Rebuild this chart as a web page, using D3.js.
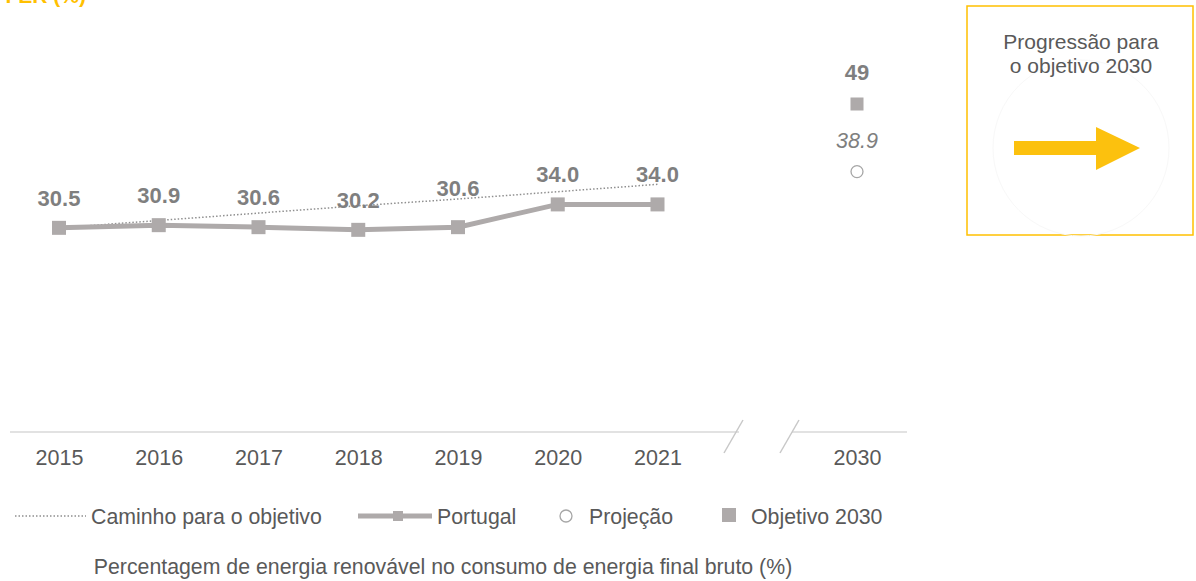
<!DOCTYPE html>
<html>
<head>
<meta charset="utf-8">
<script src="https://cdn.jsdelivr.net/npm/d3@7"></script>
<style>
  body { margin: 0; background: #fff; }
  svg { display: block; font-family: "Liberation Sans", Arial, sans-serif; }
</style>
</head>
<body>
<svg width="1196" height="581"></svg>
<script>
// data
let years = ["2015", "2016", "2017", "2018", "2019", "2020", "2021"];
let portugal = [30.5, 30.9, 30.6, 30.2, 30.6, 34.0, 34.0];
let caminho = [30.5, 31.6, 32.7, 33.8, 34.8, 35.9, 37.0];
let targetYear = "2030";
let objetivo = 49;
let projecao = 38.9;
let slots = years.concat(["gap", targetYear]);

let svg = d3.select("svg");
let grey = "#aeaaaa";
let labelGrey = "#7f7f7f";
let textGrey = "#595959";
let yellow = "#ffc000";

let x = d3.scalePoint().domain(slots).range([59, 857]);
let y = d3.scaleLinear().domain([0, 49]).range([432, 104]);

// clipped title at the very top
svg.append("text")
    .attr("x", 86).attr("y", 3)
    .attr("text-anchor", "end")
    .attr("fill", yellow)
    .attr("font-weight", "bold")
    .attr("font-size", 21)
    .text("FER (%)");

// axis with break
let axisY = y(0);
svg.append("line")
    .attr("x1", 10).attr("x2", 739)
    .attr("y1", axisY).attr("y2", axisY)
    .attr("stroke", "#d9d9d9").attr("stroke-width", 1.5);
svg.append("line")
    .attr("x1", 792).attr("x2", 907)
    .attr("y1", axisY).attr("y2", axisY)
    .attr("stroke", "#d9d9d9").attr("stroke-width", 1.5);
[[743, 724], [799, 780]].forEach(function(s) {
    svg.append("line")
        .attr("x1", s[0]).attr("y1", axisY - 12)
        .attr("x2", s[1]).attr("y2", axisY + 21)
        .attr("stroke", "#c8c8c8").attr("stroke-width", 1.5);
});

let xAxis = svg.append("g")
    .attr("transform", "translate(0," + axisY + ")")
    .call(d3.axisBottom(x).tickSize(0).tickPadding(0)
        .tickValues(years.concat([targetYear])));
xAxis.select(".domain").remove();
xAxis.selectAll("text")
    .attr("dy", 0).attr("y", 33)
    .attr("fill", textGrey)
    .attr("font-size", 21.5)
    .attr("font-family", "Liberation Sans, Arial, sans-serif");

// trajectory (dotted)
let line = d3.line()
    .x(function(d, i) { return x(years[i]); })
    .y(function(d) { return y(d); });

svg.append("path")
    .datum(caminho)
    .attr("d", line)
    .attr("fill", "none")
    .attr("stroke", "#8f8f8f")
    .attr("stroke-width", 1.5)
    .attr("stroke-dasharray", "1.5,2");

// Portugal series
svg.append("path")
    .datum(portugal)
    .attr("d", line)
    .attr("fill", "none")
    .attr("stroke", grey)
    .attr("stroke-width", 5);

svg.append("g").selectAll("rect")
    .data(portugal)
    .enter().append("rect")
    .attr("x", function(d, i) { return x(years[i]) - 7; })
    .attr("y", function(d) { return y(d) - 7; })
    .attr("width", 14).attr("height", 14)
    .attr("fill", grey);

svg.append("g").selectAll("text")
    .data(portugal)
    .enter().append("text")
    .attr("x", function(d, i) { return x(years[i]); })
    .attr("y", function(d, i) { return y(d) - (i === 4 ? 31 : 22); })
    .attr("text-anchor", "middle")
    .attr("fill", labelGrey)
    .attr("font-weight", "bold")
    .attr("font-size", 22)
    .text(function(d) { return d.toFixed(1); });

// 2030 target and projection
let tx = x(targetYear);
svg.append("rect")
    .attr("x", tx - 6.5).attr("y", y(objetivo) - 6.5)
    .attr("width", 13).attr("height", 13)
    .attr("fill", grey);
svg.append("text")
    .attr("x", tx).attr("y", y(objetivo) - 24)
    .attr("text-anchor", "middle")
    .attr("fill", labelGrey)
    .attr("font-weight", "bold")
    .attr("font-size", 22)
    .text(objetivo);
svg.append("circle")
    .attr("cx", tx).attr("cy", y(projecao))
    .attr("r", 6)
    .attr("fill", "#fff")
    .attr("stroke", "#a6a6a6").attr("stroke-width", 1.3);
svg.append("text")
    .attr("x", tx).attr("y", y(projecao) - 24)
    .attr("text-anchor", "middle")
    .attr("fill", labelGrey)
    .attr("font-style", "italic")
    .attr("font-size", 21.5)
    .text(projecao.toFixed(1));

// legend
let ly = 516;
let legend = svg.append("g").attr("font-size", 21.3).attr("fill", textGrey);
legend.append("line")
    .attr("x1", 15).attr("x2", 86).attr("y1", ly).attr("y2", ly)
    .attr("stroke", "#8f8f8f").attr("stroke-width", 1.5)
    .attr("stroke-dasharray", "1.5,2");
legend.append("text").attr("x", 91).attr("y", ly + 7.5).text("Caminho para o objetivo");

legend.append("line")
    .attr("x1", 358).attr("x2", 432).attr("y1", ly).attr("y2", ly)
    .attr("stroke", grey).attr("stroke-width", 5);
legend.append("rect")
    .attr("x", 393).attr("y", ly - 5).attr("width", 10).attr("height", 10)
    .attr("fill", grey);
legend.append("text").attr("x", 437).attr("y", ly + 7.5).text("Portugal");

legend.append("circle")
    .attr("cx", 566).attr("cy", ly).attr("r", 6)
    .attr("fill", "#fff").attr("stroke", "#a6a6a6").attr("stroke-width", 1.3);
legend.append("text").attr("x", 589).attr("y", ly + 7.5).text("Projeção");

legend.append("rect")
    .attr("x", 722).attr("y", ly - 8).attr("width", 14).attr("height", 14)
    .attr("fill", grey);
legend.append("text").attr("x", 751).attr("y", ly + 7.5).text("Objetivo 2030");

// footer
svg.append("text")
    .attr("x", 443).attr("y", 573.5)
    .attr("text-anchor", "middle")
    .attr("fill", textGrey)
    .attr("font-size", 21.3)
    .text("Percentagem de energia renovável no consumo de energia final bruto (%)");

// side box
let box = svg.append("g");
box.append("rect")
    .attr("x", 967).attr("y", 6).attr("width", 226).attr("height", 229)
    .attr("fill", "#fff").attr("stroke", yellow).attr("stroke-width", 1.5);
box.append("circle")
    .attr("cx", 1081).attr("cy", 148).attr("r", 88)
    .attr("fill", "none").attr("stroke", "#f8f8f8");
box.append("text")
    .attr("x", 1081).attr("y", 49)
    .attr("text-anchor", "middle").attr("fill", textGrey).attr("font-size", 21)
    .text("Progressão para");
box.append("text")
    .attr("x", 1081).attr("y", 73)
    .attr("text-anchor", "middle").attr("fill", textGrey).attr("font-size", 21)
    .text("o objetivo 2030");
box.append("path")
    .attr("d", "M1014,141 L1096,141 L1096,127 L1140,148 L1096,170 L1096,155 L1014,155 Z")
    .attr("fill", "#fcc10e");
</script>
</body>
</html>
